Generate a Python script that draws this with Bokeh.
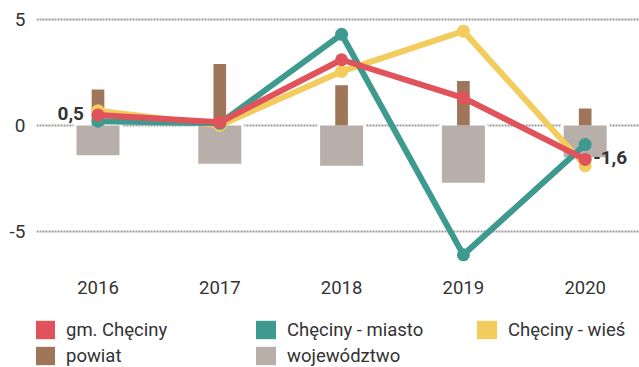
from bokeh.plotting import figure
from bokeh.layouts import column
from bokeh.models import (FixedTicker, Legend, LegendItem, Range1d)
from bokeh.core.properties import value
from bokeh.embed import file_html
from bokeh.resources import INLINE

years = ["2016", "2017", "2018", "2019", "2020"]
gm_checiny = [0.5, 0.15, 3.1, 1.3, -1.6]
checiny_miasto = [0.2, 0.1, 4.3, -6.1, -0.9]
checiny_wies = [0.7, 0.0, 2.55, 4.45, -1.9]
powiat = [1.7, 2.9, 1.9, 2.1, 0.8]
wojewodztwo = [-1.4, -1.8, -1.9, -2.7, -1.5]
y_ticks = [-5, 0, 5]

RED = "#E0535A"
TEAL = "#3E9A8E"
YELLOW = "#F2CC5C"
BROWN = "#A0765A"
GREY = "#B8AFAA"
TXT = "#333333"
FONT = "Roboto"

xs = list(range(len(years)))

p = figure(width=639, height=300, output_backend="svg", toolbar_location=None,
           x_range=Range1d(-0.505, 4.446), y_range=Range1d(-6.65, 5.80),
           min_border_top=2, min_border_left=36, min_border_right=0, min_border_bottom=34)
p.outline_line_color = None

# axes
p.xaxis.ticker = FixedTicker(ticks=xs)
p.xaxis.major_label_overrides = {i: y for i, y in enumerate(years)}
p.xaxis.axis_line_color = None
p.xaxis.major_tick_line_color = None
p.xaxis.minor_tick_line_color = None
p.xaxis.major_tick_out = 0
p.xaxis.major_label_standoff = 14
p.xaxis.major_label_text_font = FONT
p.xaxis.major_label_text_font_size = "18.5px"
p.xaxis.major_label_text_color = TXT

p.yaxis.ticker = FixedTicker(ticks=y_ticks)
p.yaxis.major_label_overrides = {t: str(t) for t in y_ticks}
p.yaxis.axis_line_color = None
p.yaxis.major_tick_line_color = None
p.yaxis.minor_tick_line_color = None
p.yaxis.major_tick_out = 0
p.yaxis.major_label_standoff = 11
p.yaxis.major_label_text_font = FONT
p.yaxis.major_label_text_font_size = "19px"
p.yaxis.major_label_text_color = TXT

p.xgrid.grid_line_color = None
p.ygrid.ticker = FixedTicker(ticks=y_ticks)
p.ygrid.grid_line_color = "#9a9a9a"
p.ygrid.grid_line_width = 2
p.ygrid.grid_line_dash = "2 1"

# bars (white halo, then fill)
p.vbar(x=xs, top=0, bottom=wojewodztwo, width=0.353, fill_color=None,
       line_color="white", line_width=6)
p.vbar(x=xs, top=0, bottom=wojewodztwo, width=0.353, fill_color=GREY, line_color=None)
p.vbar(x=xs, top=powiat, bottom=0, width=0.104, fill_color=BROWN, line_color=None)

# lines
p.line(xs, checiny_wies, line_color=YELLOW, line_width=6)
p.scatter(xs, checiny_wies, size=13, fill_color=YELLOW, line_color=None)
p.line(xs, checiny_miasto, line_color=TEAL, line_width=6)
p.scatter(xs, checiny_miasto, size=13, fill_color=TEAL, line_color=None)
p.line(xs, gm_checiny, line_color=RED, line_width=6)
p.scatter(xs, gm_checiny, size=13, fill_color=RED, line_color=None)

# value labels
fmt = lambda v: f"{v:.1f}".replace(".", ",")
p.text(x=[xs[0]], y=[gm_checiny[0]], text=[fmt(gm_checiny[0])], text_align="right",
       text_baseline="middle", x_offset=-14, y_offset=-1, text_font=value(FONT),
       text_font_style="bold", text_font_size="19px", text_color=TXT)
p.text(x=[xs[-1]], y=[gm_checiny[-1]], text=[fmt(gm_checiny[-1])], text_align="left",
       text_baseline="middle", x_offset=8, y_offset=-2, text_font=value(FONT),
       text_font_style="bold", text_font_size="19px", text_color=TXT)

# legend figure
lf = figure(width=639, height=67, output_backend="svg", toolbar_location=None,
            x_range=Range1d(0, 1), y_range=Range1d(0, 1),
            min_border=0)
lf.axis.visible = False
lf.grid.visible = False
lf.outline_line_color = None

def swatch(color):
    return lf.vbar(x=[0], top=[0], bottom=[0], width=0, fill_color=color, line_color=None)

def make_legend(pairs, loc):
    return Legend(items=[LegendItem(label=l, renderers=[swatch(c)]) for l, c in pairs],
                  orientation="horizontal", location=loc,
                  glyph_width=25, glyph_height=23, label_width=187, label_standoff=9,
                  spacing=0, padding=0, margin=0, border_line_color=None,
                  label_text_font=FONT, label_text_font_size="18.5px", label_text_color=TXT,
                  background_fill_alpha=0)

leg1 = make_legend([("gm. Chęciny", RED), ("Chęciny - miasto", TEAL), ("Chęciny - wieś", YELLOW)], (-4, 26))
leg2 = make_legend([("powiat", BROWN), ("województwo", GREY)], (-4, 0))
lf.add_layout(leg1)
lf.add_layout(leg2)

layout = column(p, lf, spacing=0)
open("out.html", "w").write(file_html(layout, INLINE))
